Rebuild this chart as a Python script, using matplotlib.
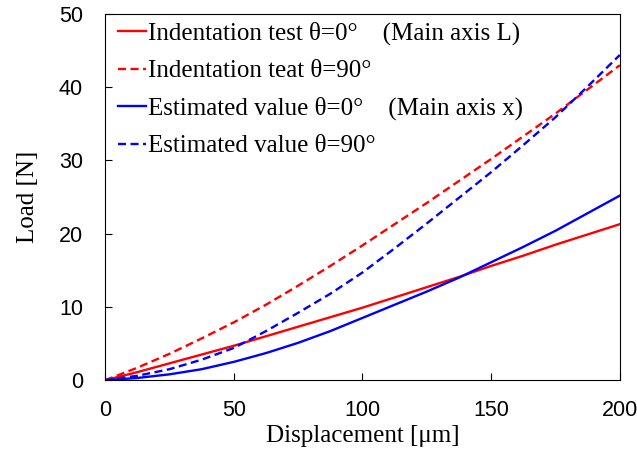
import matplotlib.pyplot as plt

# displacement [um]
disp = [0, 12.5, 25, 37.5, 50, 62.5, 75, 87.5, 100,
        112.5, 125, 137.5, 150, 162.5, 175, 187.5, 200]

# load [N]
test_0 = [0, 1.1, 2.3, 3.5, 4.7, 6.0, 7.3, 8.6, 9.9,
          11.3, 12.7, 14.1, 15.6, 17.0, 18.5, 19.9, 21.3]
test_90 = [0, 1.7, 3.6, 5.7, 7.9, 10.3, 12.9, 15.6, 18.4,
           21.3, 24.2, 27.2, 30.2, 33.3, 36.4, 39.7, 43.0]
est_0 = [0, 0.3, 0.8, 1.5, 2.5, 3.7, 5.1, 6.7, 8.5,
         10.3, 12.1, 14.0, 16.1, 18.2, 20.4, 22.8, 25.2]
est_90 = [0, 0.6, 1.5, 2.8, 4.4, 6.7, 9.2, 11.8, 14.7,
          18.0, 21.4, 24.9, 28.4, 32.1, 35.9, 40.1, 44.4]

labels = ['Indentation test \u03b8=0\u00b0    (Main axis L)',
          'Indentation teat \u03b8=90\u00b0',
          'Estimated value \u03b8=0\u00b0    (Main axis x)',
          'Estimated value \u03b8=90\u00b0']

serif = 'Liberation Serif'
sans = 'Liberation Sans'

fig = plt.figure(figsize=(6.37, 4.51), dpi=100)
ax = fig.add_axes([0.165, 0.157, 0.808, 0.812])

dash = (0, (3.4, 1.9))
ax.plot(disp, test_0, color='#ff0000', lw=1.7, label=labels[0])
ax.plot(disp, test_90, color='#ff0000', lw=1.7, ls=dash, label=labels[1])
ax.plot(disp, est_0, color='#0000ff', lw=1.7, label=labels[2])
ax.plot(disp, est_90, color='#0000ff', lw=1.7, ls=dash, label=labels[3])

ax.set_xlim(0, 200)
ax.set_ylim(0, 50)
ax.set_xticks([0, 50, 100, 150, 200])
ax.set_yticks([0, 10, 20, 30, 40, 50])
ax.tick_params(direction='in', length=5, labelsize=15.5)
ax.tick_params(axis='x', pad=14)
ax.tick_params(axis='y', pad=16)
for t in ax.get_xticklabels() + ax.get_yticklabels():
    t.set_family(sans)

ax.set_xlabel('Displacement [\u03bcm]', family=serif, fontsize=18, labelpad=3)
ax.set_ylabel('Load [N]', family=serif, fontsize=18, labelpad=14)

ax.legend(loc='upper left', bbox_to_anchor=(0.013, 0.995), frameon=False,
          prop={'family': serif, 'size': 18},
          handlelength=1.1, handletextpad=0.08, labelspacing=0.58,
          borderaxespad=0.0, borderpad=0.25)

fig.savefig('out.png', dpi=100)
